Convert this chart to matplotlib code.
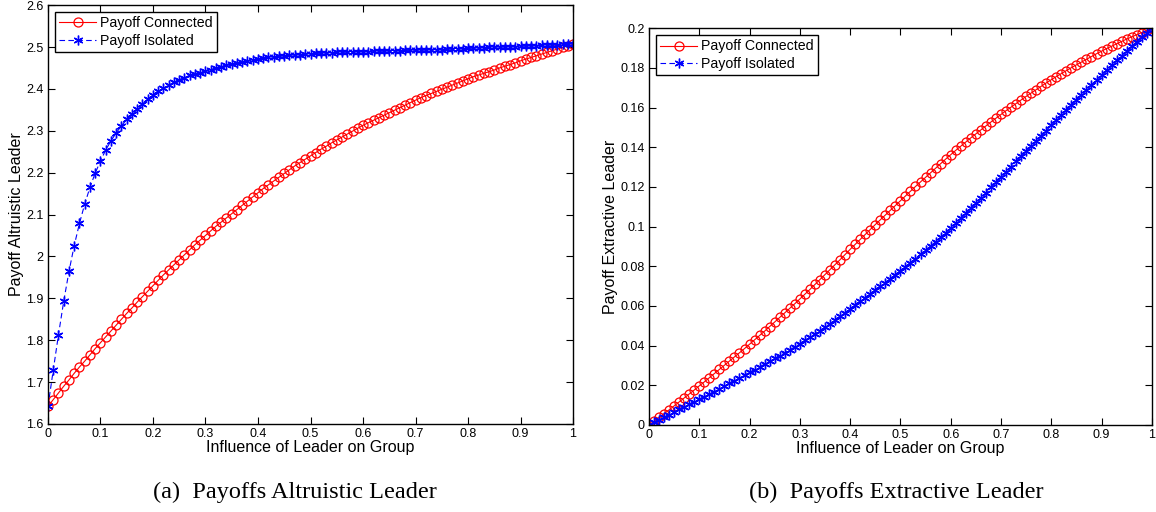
import matplotlib
matplotlib.use("Agg")
import matplotlib.pyplot as plt
import numpy as np

plt.rcParams['font.family'] = ['Liberation Sans', 'DejaVu Sans']

# influence of leader on group, 0..1 in steps of 0.01
influence = np.linspace(0, 1, 101)

# (a) altruistic leader
alt_connected = [
    1.642, 1.658, 1.674, 1.690, 1.705, 1.721, 1.736, 1.750, 1.765, 1.780,
    1.794, 1.808, 1.822, 1.836, 1.850, 1.864, 1.877, 1.891, 1.904, 1.917,
    1.930, 1.943, 1.956, 1.968, 1.980, 1.992, 2.004, 2.016, 2.028, 2.039,
    2.050, 2.061, 2.072, 2.082, 2.092, 2.102, 2.112, 2.122, 2.132, 2.142,
    2.152, 2.162, 2.171, 2.180, 2.189, 2.198, 2.207, 2.216, 2.224, 2.232,
    2.240, 2.248, 2.256, 2.263, 2.271, 2.278, 2.285, 2.292, 2.299, 2.306,
    2.313, 2.319, 2.325, 2.331, 2.337, 2.343, 2.349, 2.355, 2.361, 2.367,
    2.373, 2.379, 2.384, 2.389, 2.394, 2.399, 2.404, 2.409, 2.414, 2.419,
    2.424, 2.429, 2.433, 2.437, 2.441, 2.445, 2.450, 2.454, 2.458, 2.462,
    2.467, 2.471, 2.475, 2.479, 2.483, 2.487, 2.491, 2.495, 2.499, 2.503,
    2.506]
alt_isolated = [
    1.642, 1.728, 1.813, 1.893, 1.964, 2.026, 2.079, 2.125, 2.165, 2.199,
    2.228, 2.254, 2.276, 2.295, 2.312, 2.327, 2.341, 2.353, 2.364, 2.375,
    2.385, 2.394, 2.402, 2.409, 2.416, 2.422, 2.427, 2.432, 2.436, 2.439,
    2.442, 2.446, 2.450, 2.453, 2.456, 2.459, 2.462, 2.465, 2.467, 2.469,
    2.471, 2.473, 2.475, 2.476, 2.478, 2.479, 2.480, 2.481, 2.482, 2.483,
    2.484, 2.485, 2.485, 2.486, 2.486, 2.487, 2.487, 2.488, 2.488, 2.489,
    2.489, 2.489, 2.490, 2.490, 2.490, 2.491, 2.491, 2.491, 2.492, 2.492,
    2.492, 2.492, 2.493, 2.493, 2.494, 2.494, 2.495, 2.495, 2.496, 2.496,
    2.497, 2.497, 2.498, 2.498, 2.499, 2.499, 2.500, 2.500, 2.501, 2.501,
    2.502, 2.502, 2.503, 2.503, 2.504, 2.504, 2.505, 2.505, 2.506, 2.506,
    2.507]

# (b) extractive leader
ext_connected = [
    0.0000, 0.0019, 0.0038, 0.0057, 0.0076, 0.0096, 0.0116, 0.0136, 0.0156, 0.0176,
    0.0197, 0.0217, 0.0238, 0.0259, 0.0280, 0.0301, 0.0322, 0.0343, 0.0364, 0.0385,
    0.0407, 0.0429, 0.0451, 0.0473, 0.0496, 0.0519, 0.0542, 0.0565, 0.0588, 0.0611,
    0.0635, 0.0659, 0.0683, 0.0708, 0.0733, 0.0758, 0.0783, 0.0808, 0.0833, 0.0859,
    0.0885, 0.0910, 0.0935, 0.0960, 0.0985, 0.1010, 0.1034, 0.1058, 0.1082, 0.1106,
    0.1130, 0.1154, 0.1178, 0.1202, 0.1225, 0.1248, 0.1271, 0.1294, 0.1317, 0.1340,
    0.1362, 0.1384, 0.1405, 0.1426, 0.1447, 0.1467, 0.1487, 0.1507, 0.1527, 0.1546,
    0.1565, 0.1584, 0.1602, 0.1620, 0.1638, 0.1656, 0.1673, 0.1690, 0.1707, 0.1724,
    0.1740, 0.1756, 0.1771, 0.1786, 0.1801, 0.1815, 0.1829, 0.1843, 0.1857, 0.1871,
    0.1884, 0.1897, 0.1909, 0.1921, 0.1933, 0.1945, 0.1956, 0.1967, 0.1978, 0.1989,
    0.2000]
ext_isolated = [
    0.0000, 0.0013, 0.0026, 0.0039, 0.0052, 0.0065, 0.0078, 0.0091, 0.0104, 0.0117,
    0.0129, 0.0142, 0.0155, 0.0168, 0.0181, 0.0195, 0.0209, 0.0223, 0.0237, 0.0251,
    0.0265, 0.0279, 0.0293, 0.0307, 0.0321, 0.0335, 0.0349, 0.0364, 0.0379, 0.0394,
    0.0410, 0.0426, 0.0442, 0.0459, 0.0476, 0.0493, 0.0511, 0.0529, 0.0547, 0.0566,
    0.0585, 0.0604, 0.0623, 0.0642, 0.0661, 0.0680, 0.0699, 0.0718, 0.0738, 0.0758,
    0.0778, 0.0798, 0.0818, 0.0839, 0.0860, 0.0881, 0.0902, 0.0924, 0.0946, 0.0969,
    0.0992, 0.1016, 0.1041, 0.1066, 0.1092, 0.1118, 0.1144, 0.1170, 0.1197, 0.1224,
    0.1250, 0.1276, 0.1302, 0.1328, 0.1354, 0.1380, 0.1406, 0.1432, 0.1458, 0.1484,
    0.1510, 0.1536, 0.1562, 0.1588, 0.1614, 0.1640, 0.1665, 0.1690, 0.1715, 0.1740,
    0.1765, 0.1790, 0.1814, 0.1838, 0.1862, 0.1886, 0.1909, 0.1932, 0.1955, 0.1978,
    0.2000]

x_ticks = [0, 0.1, 0.2, 0.3, 0.4, 0.5, 0.6, 0.7, 0.8, 0.9, 1]
alt_yticks = [1.6, 1.7, 1.8, 1.9, 2.0, 2.1, 2.2, 2.3, 2.4, 2.5, 2.6]
ext_yticks = [0, 0.02, 0.04, 0.06, 0.08, 0.1, 0.12, 0.14, 0.16, 0.18, 0.2]

asterisk = (6, 2, 0)

fig = plt.figure(figsize=(11.56, 5.12), dpi=100)
ax1 = fig.add_axes([0.0415, 0.172, 0.4542, 0.818])
ax2 = fig.add_axes([0.5614, 0.170, 0.4350, 0.775])


def style(ax, yticks, ylabel, xlim, ylim):
    ax.set_xlim(*xlim)
    ax.set_ylim(*ylim)
    ax.set_xticks(x_ticks)
    ax.set_xticklabels(['%g' % t for t in x_ticks])
    ax.set_yticks(yticks)
    ax.set_yticklabels(['%g' % t for t in yticks])
    ax.tick_params(direction='in', top=True, right=True, length=5,
                   width=0.8, labelsize=9, pad=3)
    for s in ax.spines.values():
        s.set_linewidth(1.0)
    ax.set_xlabel('Influence of Leader on Group', fontsize=11.5, labelpad=0)
    ax.set_ylabel(ylabel, fontsize=11.5, labelpad=2)
    leg = ax.legend(loc='upper left', fontsize=10.2, frameon=True, fancybox=False,
                    edgecolor='black', framealpha=1, handlelength=2.6,
                    borderpad=0.3, labelspacing=0.25, handletextpad=0.3,
                    borderaxespad=0.5)
    leg.get_frame().set_linewidth(1.0)


ax1.plot(influence, alt_connected, color='red', linestyle='-', linewidth=0.8,
         marker='o', markersize=6.5, markerfacecolor='none',
         markeredgewidth=0.9, label='Payoff Connected')
ax1.plot(influence, alt_isolated, color='blue', linestyle=(0, (5, 3)), linewidth=0.8,
         marker=asterisk, markersize=7, markeredgewidth=1.0,
         label='Payoff Isolated')
style(ax1, alt_yticks, 'Payoff Altruistic Leader', (0, 1), (1.6, 2.6))

ax2.plot(influence, ext_connected, color='red', linestyle='-', linewidth=0.8,
         marker='o', markersize=6.5, markerfacecolor='none',
         markeredgewidth=0.9, label='Payoff Connected')
ax2.plot(influence, ext_isolated, color='blue', linestyle=(0, (5, 3)), linewidth=0.8,
         marker=asterisk, markersize=7, markeredgewidth=1.0,
         label='Payoff Isolated')
style(ax2, ext_yticks, 'Payoff Extractive Leader', (0, 1), (0, 0.2))

fig.text(0.255, 0.039, '(a)  Payoffs Altruistic Leader', ha='center', va='center',
         fontsize=17.5, family=['Liberation Serif', 'DejaVu Serif'])
fig.text(0.775, 0.039, '(b)  Payoffs Extractive Leader', ha='center', va='center',
         fontsize=17.5, family=['Liberation Serif', 'DejaVu Serif'])

fig.savefig('out.png', dpi=100)
